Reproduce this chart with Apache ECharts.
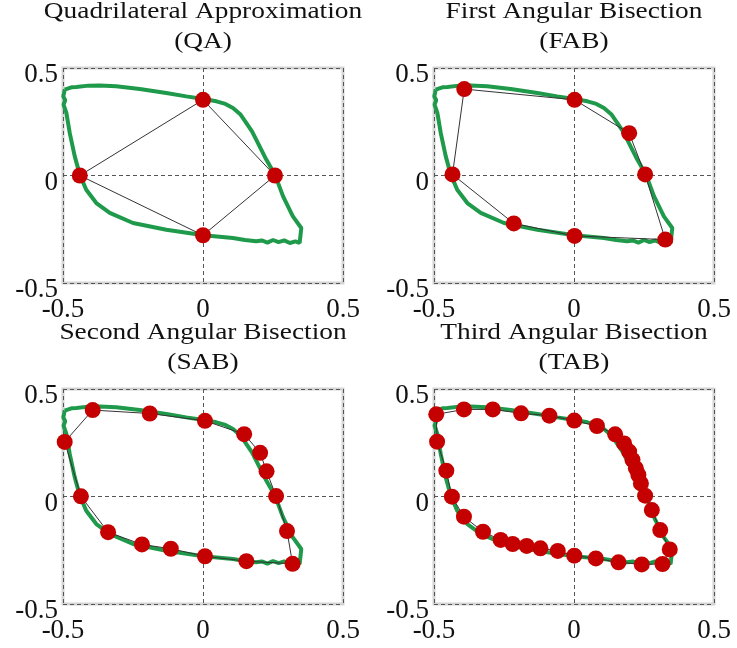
<!DOCTYPE html>
<html>
<head>
<meta charset="utf-8">
<script src="https://cdn.jsdelivr.net/npm/echarts@6/dist/echarts.min.js"></script>
<style>
  html, body { margin: 0; padding: 0; background: #fff; }
  #main { width: 737px; height: 648px; }
</style>
</head>
<body>
<div id="main"></div>
<script>
// measured loop (same trace in every panel)
var loopX = [-0.494, -0.470, -0.452, -0.410, -0.369, -0.310, -0.226, -0.131, -0.060, 0.002, 0.048, 0.080, 0.107, 0.133, 0.155, 0.175, 0.190, 0.226, 0.257, 0.286, 0.321, 0.351, 0.348, 0.345, 0.330, 0.310, 0.290, 0.270, 0.250, 0.230, 0.210, 0.190, 0.150, 0.107, 0.002, -0.131, -0.250, -0.333, -0.381, -0.417, -0.440, -0.458, -0.476, -0.488, -0.498, -0.492, -0.499, -0.496, -0.494];
var loopY = [0.399, 0.410, 0.412, 0.418, 0.419, 0.415, 0.402, 0.384, 0.368, 0.356, 0.345, 0.333, 0.314, 0.285, 0.244, 0.205, 0.167, 0.074, 0.004, -0.097, -0.190, -0.244, -0.280, -0.314, -0.306, -0.314, -0.302, -0.310, -0.300, -0.312, -0.302, -0.306, -0.300, -0.291, -0.278, -0.252, -0.221, -0.174, -0.128, -0.066, 0.004, 0.089, 0.198, 0.291, 0.330, 0.350, 0.368, 0.385, 0.399];

// approximation vertices per panel
var qaX = [-0.44, 0.0, 0.257, 0.0];
var qaY = [0.0, 0.352, 0.0, -0.278];

var fabX = [-0.392, 0.002, 0.197, 0.254, 0.326, 0.002, -0.215, -0.434];
var fabY = [0.402, 0.352, 0.197, 0.005, -0.298, -0.281, -0.223, 0.005];

var sabX = [-0.394, -0.190, 0.007, 0.147, 0.204, 0.227, 0.261, 0.300, 0.320, 0.155, 0.007, -0.115, -0.218, -0.339, -0.436, -0.494];
var sabY = [0.402, 0.386, 0.352, 0.290, 0.203, 0.117, 0.002, -0.161, -0.313, -0.301, -0.278, -0.243, -0.223, -0.166, 0.001, 0.254];

var tabX = [-0.492, -0.393, -0.290, -0.189, -0.088, 0.001, 0.082, 0.147, 0.179, 0.197, 0.209, 0.221, 0.230, 0.239, 0.254, 0.278, 0.308, 0.342, 0.316, 0.242, 0.159, 0.078, 0.001, -0.058, -0.120, -0.169, -0.219, -0.262, -0.325, -0.393, -0.436, -0.456, -0.489];
var tabY = [0.382, 0.405, 0.405, 0.387, 0.376, 0.353, 0.328, 0.289, 0.247, 0.209, 0.170, 0.131, 0.100, 0.061, 0.004, -0.063, -0.156, -0.246, -0.314, -0.316, -0.306, -0.288, -0.275, -0.253, -0.241, -0.230, -0.221, -0.202, -0.164, -0.094, -0.001, 0.120, 0.255];

var titles = ['Quadrilateral Approximation\n(QA)', 'First Angular Bisection\n(FAB)',
              'Second Angular Bisection\n(SAB)', 'Third Angular Bisection\n(TAB)'];
var tickMin = -0.5, tickMax = 0.5, tickStep = 0.5;

var panels = [[qaX, qaY], [fabX, fabY], [sabX, sabY], [tabX, tabY]];
var gridPos = [[63, 68], [434, 68], [63, 389], [434, 389]];

function zip(xs, ys, close) {
    var out = [];
    for (var i = 0; i < xs.length; i++) out.push([xs[i], ys[i]]);
    if (close) out.push([xs[0], ys[0]]);
    return out;
}

var myChart = echarts.init(document.getElementById('main'));

var serif = '"Liberation Serif", "DejaVu Serif", serif';
var grids = [], xAxes = [], yAxes = [], series = [], graphics = [];

function tickFmt(v) { return v === 0 ? '0' : String(v); }

for (var k = 0; k < 4; k++) {
    grids.push({
        left: gridPos[k][0], top: gridPos[k][1], width: 280, height: 215,
        show: true, borderColor: '#d4d4d4', borderWidth: 3
    });
    var common = {
        type: 'value', gridIndex: k, min: tickMin, max: tickMax, interval: tickStep,
        axisLine: {show: false},
        axisTick: {show: false},
        splitLine: {show: true, lineStyle: {color: '#555', width: 1, type: [4, 3]}}
    };
    xAxes.push(echarts.util.merge({
        axisLabel: {color: '#111', fontFamily: serif, fontSize: 27, margin: 13, formatter: tickFmt}
    }, common, true));
    yAxes.push(echarts.util.merge({
        axisLabel: {
            color: '#111', fontFamily: serif, fontSize: 27, margin: 5,
            verticalAlign: 'top', lineHeight: 14, formatter: tickFmt
        }
    }, common, true));

    // green measured loop
    series.push({
        type: 'line', xAxisIndex: k, yAxisIndex: k, data: zip(loopX, loopY, false),
        showSymbol: false, symbol: 'none', silent: true, z: 2,
        lineStyle: {color: '#1f9a4b', width: 4}
    });
    // black polygon
    series.push({
        type: 'line', xAxisIndex: k, yAxisIndex: k, data: zip(panels[k][0], panels[k][1], true),
        showSymbol: false, symbol: 'none', silent: true, z: 3,
        lineStyle: {color: '#333', width: 1}
    });
    // red vertices
    series.push({
        type: 'scatter', xAxisIndex: k, yAxisIndex: k, data: zip(panels[k][0], panels[k][1], false),
        symbolSize: 16, silent: true, z: 4,
        itemStyle: {color: '#c40000', opacity: 1}
    });

    graphics.push({
        type: 'text',
        x: gridPos[k][0] + 140, y: gridPos[k][1] - 71,
        scaleX: 1.14,
        style: {
            text: titles[k], fill: '#111', textAlign: 'center',
            font: '24px ' + serif, lineHeight: 30
        }
    });
}

option = {
    animation: false,
    grid: grids,
    xAxis: xAxes,
    yAxis: yAxes,
    series: series,
    graphic: graphics
};
myChart.setOption(option);
</script>
</body>
</html>
